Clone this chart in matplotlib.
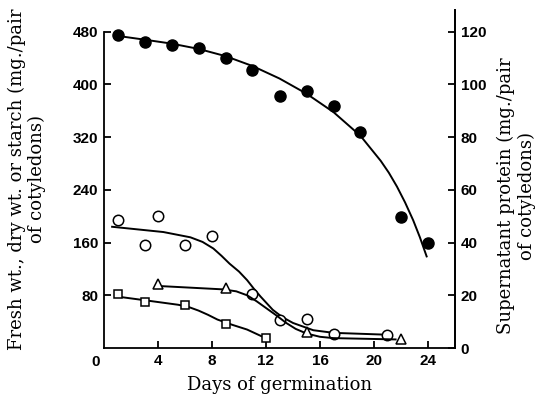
import numpy as np
import matplotlib
matplotlib.use('Agg')
import matplotlib.pyplot as plt

# Fresh wt. (closed circles)
fresh_days = [1, 3, 5, 7, 9, 11, 13, 15, 17, 19, 22, 24]
fresh_wt = [475, 464, 460, 455, 440, 422, 383, 390, 367, 328, 199, 159]
fresh_fit_days = [0.9, 3, 5, 7, 9, 11, 13, 15, 17, 19, 20.5, 21.1, 21.7, 22.3, 22.9, 23.4, 23.9]
fresh_fit = [474, 468, 462, 454, 443, 428, 409, 386, 358, 322, 284, 266, 245, 221, 194, 168, 139]

# Dry wt. (open circles)
dry_days = [1, 3, 4, 6, 8, 11, 13, 15, 17, 21]
dry_wt = [195, 156, 200, 156, 170, 81.5, 42.5, 44, 21, 20]
dry_fit_days = [0.6, 4.4, 6.4, 7.3, 8.1, 8.7, 9.3, 10.0, 10.6, 11.1, 11.6, 12.5,
                13.2, 14.0, 15.5, 17.0, 21.2]
dry_fit = [184, 176, 168, 161, 151, 140, 128, 116, 103, 90, 78, 58, 47, 38, 27, 23, 20]

# Starch (triangles)
starch_days = [4, 9, 15, 22]
starch = [96.7, 91.5, 24, 13]
starch_fit_days = [4.15, 8.8, 9.8, 10.6, 11.3, 12.05, 12.8, 13.5, 14.2, 15, 16, 17, 21.6]
starch_fit = [94, 89, 86, 80, 71, 60, 49, 38, 29, 22, 17, 15, 13]

# Supernatant protein (squares, right axis, mg./pair)
prot_days = [1, 3, 6, 9, 12]
protein = [20.5, 17.5, 16.3, 9.2, 3.9]
prot_fit_days = [1.0, 3.2, 5.5, 6.3, 7.0, 7.7, 8.4, 9.5, 10.6, 11.4, 12.2]
prot_fit = [19.5, 18.0, 16.4, 15.5, 14.2, 12.6, 10.8, 8.8, 7.0, 5.1, 3.2]

x_ticks = [4, 8, 12, 16, 20, 24]
left_ticks = [80, 160, 240, 320, 400, 480]
right_ticks = [0, 20, 40, 60, 80, 100, 120]

tick_font = {'family': 'Liberation Sans', 'weight': 'bold', 'size': 11}
lab_font = {'family': 'DejaVu Serif', 'size': 13}

fig = plt.figure(figsize=(5.47, 4.0), dpi=100)
ax = fig.add_axes([104 / 547, 52 / 400, 351 / 547, 338 / 400])
ax2 = ax.twinx()

top = 513
ax.set_xlim(0, 26)
ax.set_ylim(0, top)
ax2.set_ylim(0, top / 4)

lw = 1.4
ax.plot(fresh_fit_days, fresh_fit, color='black', lw=lw)
ax.plot(fresh_days, fresh_wt, 'o', color='black', ms=8)
ax.plot(dry_fit_days, dry_fit, color='black', lw=lw)
ax.plot(dry_days, dry_wt, 'o', mfc='white', mec='black', mew=1.1, ms=7.5)
ax.plot(starch_fit_days, starch_fit, color='black', lw=lw)
ax.plot(starch_days, starch, '^', mfc='white', mec='black', mew=1.1, ms=7)
ax2.plot(prot_fit_days, prot_fit, color='black', lw=lw)
ax2.plot(prot_days, protein, 's', mfc='white', mec='black', mew=1.1, ms=6)

for a in (ax, ax2):
    a.spines['top'].set_visible(False)
    for s in a.spines.values():
        s.set_linewidth(1.3)
ax.spines['left'].set_bounds(0, 480)
ax2.spines['left'].set_visible(False)
ax2.spines['bottom'].set_visible(False)

ax.set_xticks(x_ticks)
ax.set_xticklabels([str(t) for t in x_ticks], fontdict=tick_font)
ax.set_yticks(left_ticks)
ax.set_yticklabels([str(t) for t in left_ticks], fontdict=tick_font)
ax2.set_yticks(right_ticks)
ax2.set_yticklabels([str(t) for t in right_ticks], fontdict=tick_font)
ax.tick_params(direction='in', length=5, width=1.3, pad=4)
ax2.tick_params(direction='in', length=5, width=1.3, pad=4)
ax.annotate('0', xy=(0, 0), xycoords='data', xytext=(-6, -10),
            textcoords='offset points', ha='center', va='center', **tick_font)

ax.set_xlabel('Days of germination', fontdict=lab_font, labelpad=6)
ax.set_ylabel('Fresh wt., dry wt. or starch (mg./pair\nof cotyledons)',
              fontdict=lab_font, linespacing=1.1)
ax2.set_ylabel('Supernatant protein (mg./pair\nof cotyledons)',
               fontdict=lab_font, linespacing=1.2)
ax.yaxis.set_label_coords(-0.165, 0.5)
ax2.yaxis.set_label_coords(1.12, 0.45)

fig.savefig('out.png', dpi=100)
